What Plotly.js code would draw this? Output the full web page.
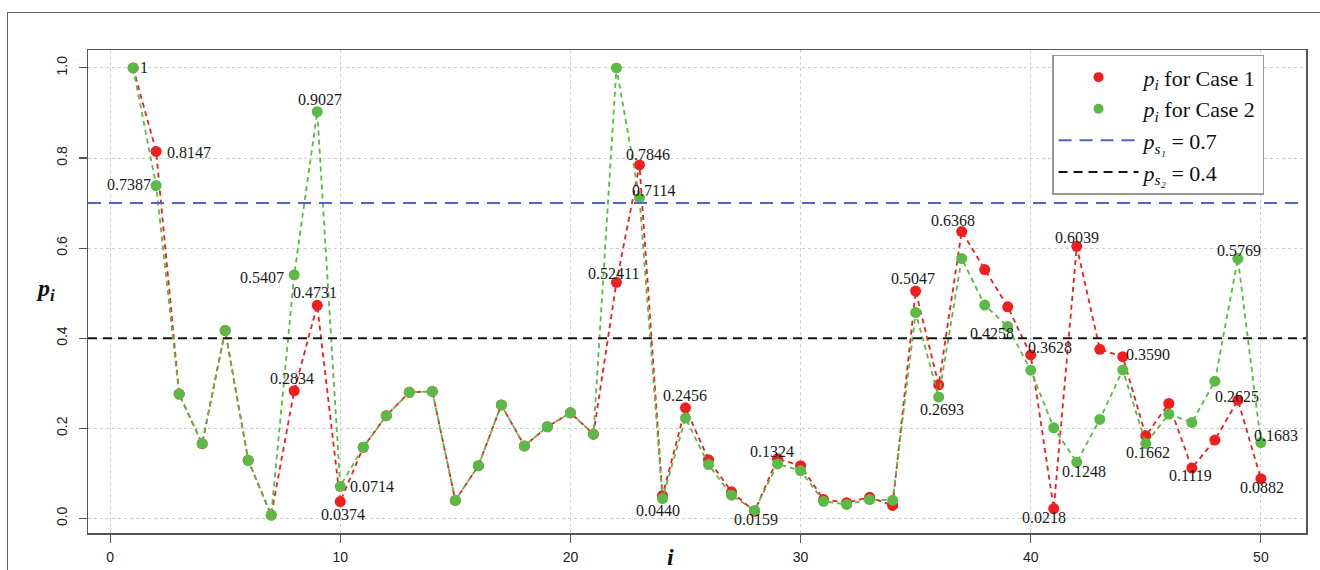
<!DOCTYPE html>
<html>
<head>
<meta charset="utf-8">
<script src="https://cdn.plot.ly/plotly-3.0.1.min.js"></script>
<style>
  html, body { margin: 0; padding: 0; background: #ffffff; overflow: hidden; }
  #frame { position: absolute; left: 7px; top: 12px; width: 1400px; height: 700px; border: 1.5px solid #666; }
  #chart { position: absolute; left: 0; top: 0; width: 1320px; height: 570px; }
</style>
</head>
<body>
<div id="frame"></div>
<div id="chart"></div>
<script>
// ---------------- data ----------------
const idx = Array.from({length: 50}, (_, k) => k + 1);

const pCase1 = [1, 0.8147, 0.276, 0.166, 0.417, 0.129, 0.0074, 0.2834, 0.4731, 0.0374,
  0.158, 0.228, 0.280, 0.282, 0.040, 0.117, 0.252, 0.161, 0.2035, 0.2345,
  0.187, 0.52411, 0.7846, 0.0505, 0.2456, 0.1305, 0.059, 0.0159, 0.1324, 0.117,
  0.042, 0.035, 0.047, 0.029, 0.5047, 0.2965, 0.6368, 0.5524, 0.4697, 0.3628,
  0.0218, 0.6039, 0.3754, 0.3590, 0.1836, 0.2551, 0.1119, 0.174, 0.2625, 0.0882];

const pCase2 = [1, 0.7387, 0.276, 0.166, 0.417, 0.129, 0.0074, 0.5407, 0.9027, 0.0714,
  0.158, 0.228, 0.280, 0.282, 0.040, 0.117, 0.252, 0.161, 0.2035, 0.2345,
  0.187, 1, 0.7114, 0.0440, 0.2228, 0.1195, 0.0516, 0.0177, 0.121, 0.106,
  0.038, 0.031, 0.042, 0.0405, 0.457, 0.2693, 0.5767, 0.4735, 0.4258, 0.329,
  0.2013, 0.1248, 0.2197, 0.3296, 0.1662, 0.2316, 0.213, 0.3046, 0.5769, 0.1683];

const thresholds = [0.7, 0.4];
const thresholdNames = ['<i>p<sub>s₁</sub></i> = 0.7', '<i>p<sub>s₂</sub></i> = 0.4'];
const seriesNames = ['<i>p<sub>i</sub></i> for Case 1', '<i>p<sub>i</sub></i> for Case 2'];

const xTicks = [0, 10, 20, 30, 40, 50];
const yTicks = [0.0, 0.2, 0.4, 0.6, 0.8, 1.0];
const yTickText = ['0.0', '0.2', '0.4', '0.6', '0.8', '1.0'];

// labelled points: series (1 or 2), index i, text
const labelSeries = [2, 1, 2, 2, 2, 1, 1, 2, 1, 1, 1, 2, 1, 2, 1, 1, 1, 2, 1, 2, 1, 1, 1, 2, 1, 2, 1, 1, 2, 2, 1];
const labelIndex  = [1, 2, 2, 8, 9, 9, 8, 10, 10, 22, 23, 23, 25, 24, 28, 29, 35, 36, 37, 39, 40, 41, 42, 42, 44, 45, 47, 49, 49, 50, 50];
const labelText   = ['1', '0.8147', '0.7387', '0.5407', '0.9027', '0.4731', '0.2834', '0.0714', '0.0374',
  '0.52411', '0.7846', '0.7114', '0.2456', '0.0440', '0.0159', '0.1324', '0.5047', '0.2693', '0.6368',
  '0.4258', '0.3628', '0.0218', '0.6039', '0.1248', '0.3590', '0.1662', '0.1119', '0.2625', '0.5769',
  '0.1683', '0.0882'];

// ---------------- styles ----------------
// pixel offsets of each label's centre from its point (style, not data)
const labelDx = [11, 33, -27, -32, 3, -2, -2, 32, 3, -3, 9, 14, 0, -4, 1, -6, -3, 3, -9, -16, 19, -10, 0, 7, 25, 2, -1, -1, 1, 15, 1];
const labelDy = [0, -1, 1, -3, 12, 13, 12, 0, -13, 9, 10, 7, 12, -12, -8, 7, 13, -12, 11, -7, 7, -9, 9, -9, 2, -9, -7, 4, 8, 7, -9];

const RED = '#f01e1e', GREEN = '#5bb946', BLUE = '#4a68cc', BLACK = '#151515';
const serif = 'Liberation Serif, Times New Roman, serif';
const sans = 'Liberation Sans, Arial, sans-serif';

const span = idx[idx.length - 1] - idx[0];
const xRange = [idx[0] - 0.04 * span, idx[idx.length - 1] + 0.04 * span];
const allVals = pCase1.concat(pCase2);
const yMin = Math.min(...allVals), yMax = Math.max(...allVals);
const yRange = [yMin - 0.04 * (yMax - yMin), yMax + 0.04 * (yMax - yMin)];

const traces = [
  { x: idx, y: pCase1, type: 'scatter', mode: 'lines+markers', showlegend: false,
    line: { color: RED, width: 1.8, dash: '5px,4px' }, marker: { color: RED, size: 11 } },
  { x: idx, y: pCase2, type: 'scatter', mode: 'lines+markers', showlegend: false,
    line: { color: GREEN, width: 1.8, dash: '5px,4px' }, marker: { color: GREEN, size: 11 } },
  { x: [null], y: [null], type: 'scatter', mode: 'markers', name: seriesNames[0],
    marker: { color: RED, size: 10 } },
  { x: [null], y: [null], type: 'scatter', mode: 'markers', name: seriesNames[1],
    marker: { color: GREEN, size: 10 } },
  { x: xRange, y: [thresholds[0], thresholds[0]], type: 'scatter', mode: 'lines', name: thresholdNames[0],
    line: { color: BLUE, width: 2, dash: '13px,8px' }, hoverinfo: 'skip' },
  { x: xRange, y: [thresholds[1], thresholds[1]], type: 'scatter', mode: 'lines', name: thresholdNames[1],
    line: { color: BLACK, width: 2, dash: '9px,6px' }, hoverinfo: 'skip' }
];

const annotations = labelText.map((t, k) => {
  const series = labelSeries[k] === 1 ? pCase1 : pCase2;
  return {
    x: labelIndex[k], y: series[labelIndex[k] - 1], xref: 'x', yref: 'y',
    text: t, showarrow: false, xanchor: 'center', yanchor: 'middle',
    xshift: labelDx[k], yshift: labelDy[k],
    font: { family: serif, size: 16, color: '#1a1a1a' }
  };
});
annotations.push({
  xref: 'paper', yref: 'paper', x: -0.0353, y: 0.503, text: '<b><i>p<sub>i</sub></i></b>',
  showarrow: false, xanchor: 'center', yanchor: 'middle', font: { family: serif, size: 24, color: '#111' }
});
annotations.push({
  xref: 'paper', yref: 'paper', x: 0.478, y: -0.05, text: '<b><i>i</i></b>',
  showarrow: false, xanchor: 'center', yanchor: 'middle', font: { family: serif, size: 24, color: '#111' }
});

const layout = {
  width: 1320, height: 570,
  margin: { l: 88, r: 14, t: 50, b: 37, pad: 0 },
  paper_bgcolor: 'rgba(0,0,0,0)', plot_bgcolor: '#ffffff',
  showlegend: true,
  legend: {
    x: 0.7915, y: 0.99, xanchor: 'left', yanchor: 'top',
    bgcolor: '#ffffff', bordercolor: '#999', borderwidth: 1.5,
    font: { family: serif, size: 22, color: '#111' },
    itemwidth: 80, tracegroupgap: 0
  },
  xaxis: {
    range: xRange, tickvals: xTicks, ticktext: xTicks.map(String),
    showgrid: true, gridcolor: '#cfcfcf', griddash: 'dot', gridwidth: 1,
    zeroline: false, showline: true, mirror: true, linecolor: '#555', linewidth: 1.5,
    ticks: 'outside', ticklen: 8, tickcolor: '#555', tickwidth: 1.2,
    tickfont: { family: sans, size: 14, color: '#222' }, ticklabelstandoff: 3
  },
  yaxis: {
    range: yRange, tickvals: yTicks, ticktext: yTickText, tickangle: -90,
    showgrid: true, gridcolor: '#cfcfcf', griddash: 'dot', gridwidth: 1,
    zeroline: false, showline: true, mirror: true, linecolor: '#555', linewidth: 1.5,
    ticks: 'outside', ticklen: 8, tickcolor: '#555', tickwidth: 1.2,
    tickfont: { family: sans, size: 14, color: '#222' }, ticklabelstandoff: 6
  },
  annotations: annotations
};

Plotly.newPlot('chart', traces, layout, { displayModeBar: false, staticPlot: true });
</script>
</body>
</html>
